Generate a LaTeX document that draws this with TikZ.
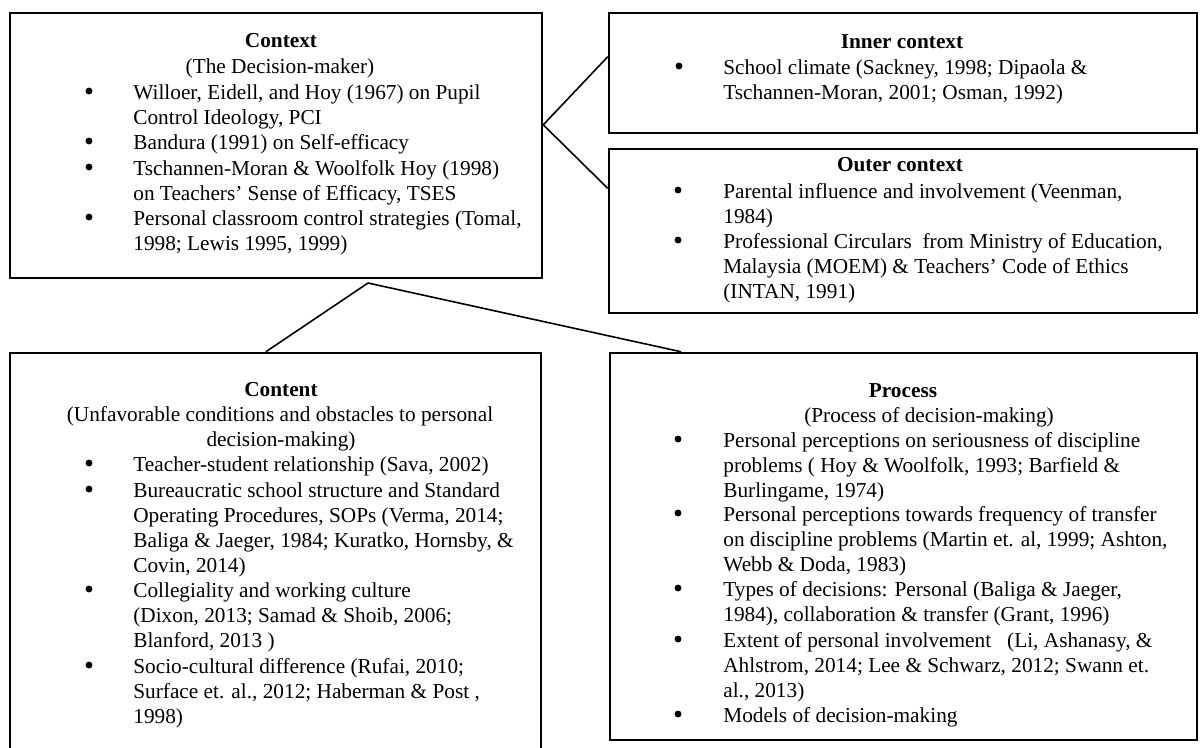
\documentclass[tikz,border=0pt]{standalone}
\usepackage{fontspec}
\setmainfont{Liberation Serif}
\usetikzlibrary{fit,calc}

\tikzset{
  frame/.style={draw, line width=1.4pt, inner sep=0pt},
  link/.style={line width=0.9pt},
  txt/.style={anchor=base west, inner sep=0pt, font=\fontsize{12}{14}\selectfont},
  hdr/.style={anchor=base, inner sep=0pt, font=\fontsize{12}{14}\selectfont\bfseries},
  sub/.style={anchor=base, inner sep=0pt, font=\fontsize{12}{14}\selectfont},
  dot/.style={circle, fill, inner sep=0pt, minimum size=3.9pt},
}

\begin{document}
\begin{tikzpicture}[x=0.5636pt, y=-0.5636pt]
\clip (0,0) rectangle (1200,747);

% ---------- boxes ----------
\node[frame, fit={(10,13) (542,278)}] (ctx) {};
\node[frame, fit={(609,13) (1197,133)}] (inner) {};
\node[frame, fit={(609,149) (1197,313)}] (outer) {};
\node[frame, fit={(10,353) (541,770)}] (content) {};
\node[frame, fit={(610,353) (1197,740)}] (process) {};

% ---------- connectors ----------
\coordinate (ctx-r) at ($(ctx.north east)!0.4226!(ctx.south east)$);
\coordinate (inner-l) at ($(inner.north west)!0.367!(inner.south west)$);
\coordinate (outer-l) at ($(outer.north west)!0.244!(outer.south west)$);
\coordinate (hub) at (368,283);
\coordinate (content-t) at ($(content.north west)!0.482!(content.north east)$);
\coordinate (process-t) at ($(process.north west)!0.1227!(process.north east)$);
\draw[link] (ctx-r) -- (inner-l);
\draw[link] (ctx-r) -- (outer-l);
\draw[link] (hub) -- (content-t);
\draw[link] (hub) -- (process-t);

% ---------- Context ----------
\node[hdr] (ctx-h) at (281,47) {Context};
\node[sub] (ctx-s) at (280,73) {(The Decision-maker)};
\foreach \yy [count=\i] in {99,149,175,225}
  \node[dot] (ctx-b\i) at (89,\yy-8) {};
\foreach \yy/\str [count=\i] in {
  99/{Willoer, Eidell, and Hoy (1967) on Pupil},
  124/{Control Ideology, PCI},
  149/{Bandura (1991) on Self-efficacy},
  175/{Tschannen-Moran \& Woolfolk Hoy (1998)},
  200/{on Teachers’ Sense of Efficacy, TSES},
  225/{Personal classroom control strategies (Tomal,},
  250/{1998; Lewis 1995, 1999)}}
  \node[txt] (ctx-l\i) at (133,\yy) {\str};

% ---------- Inner context ----------
\node[hdr] (inner-h) at (902,48) {Inner context};
\node[dot] (inner-b1) at (679,74-8) {};
\foreach \yy/\str [count=\i] in {
  74/{School climate (Sackney, 1998; Dipaola \&},
  99/{Tschannen-Moran, 2001; Osman, 1992)}}
  \node[txt] (inner-l\i) at (723,\yy) {\str};

% ---------- Outer context ----------
\node[hdr] (outer-h) at (900,171) {Outer context};
\foreach \yy [count=\i] in {198,248}
  \node[dot] (outer-b\i) at (678,\yy-8) {};
\foreach \yy/\str [count=\i] in {
  198/{Parental influence and involvement (Veenman,},
  223/{1984)},
  248/{Professional Circulars\ \ from Ministry of Education,},
  273/{Malaysia (MOEM) \& Teachers’ Code of Ethics},
  298/{(INTAN, 1991)}}
  \node[txt] (outer-l\i) at (723,\yy) {\str};

% ---------- Content ----------
\node[hdr] (content-h) at (281,396) {Content};
\node[sub] (content-s1) at (280,421) {(Unfavorable conditions and obstacles to personal};
\node[sub] (content-s2) at (281,446) {decision-making)};
\foreach \yy [count=\i] in {471,497,597,673}
  \node[dot] (content-b\i) at (89,\yy-8) {};
\foreach \yy/\str [count=\i] in {
  471/{Teacher-student relationship (Sava, 2002)},
  497/{Bureaucratic school structure and Standard},
  522/{Operating Procedures, SOPs (Verma, 2014;},
  547/{Baliga \& Jaeger, 1984; Kuratko, Hornsby, \&},
  572/{Covin, 2014)},
  597/{Collegiality and working culture},
  622/{(Dixon, 2013; Samad \& Shoib, 2006;},
  647/{Blanford, 2013 )},
  673/{Socio-cultural difference (Rufai, 2010;},
  698/{Surface et. al., 2012; Haberman \& Post ,},
  723/{1998)}}
  \node[txt] (content-l\i) at (133,\yy) {\str};

% ---------- Process ----------
\node[hdr] (process-h) at (903,397) {Process};
\node[sub] (process-s) at (929,422) {(Process of decision-making)};
\foreach \yy [count=\i] in {447,521,596,647,722}
  \node[dot] (process-b\i) at (678,\yy-8) {};
\foreach \yy/\str [count=\i] in {
  447/{Personal perceptions on seriousness of discipline},
  472/{problems ( Hoy \& Woolfolk, 1993; Barfield \&},
  497/{Burlingame, 1974)},
  521/{Personal perceptions towards frequency of transfer},
  546/{on discipline problems (Martin et. al, 1999; Ashton,},
  571/{Webb \& Doda, 1983)},
  596/{Types of decisions: Personal (Baliga \& Jaeger,},
  621/{1984), collaboration \& transfer (Grant, 1996)},
  647/{Extent of personal involvement\ \ \ (Li, Ashanasy, \&},
  672/{Ahlstrom, 2014; Lee \& Schwarz, 2012; Swann et.},
  697/{al., 2013)},
  722/{Models of decision-making}}
  \node[txt] (process-l\i) at (723,\yy) {\str};
\end{tikzpicture}
\end{document}
